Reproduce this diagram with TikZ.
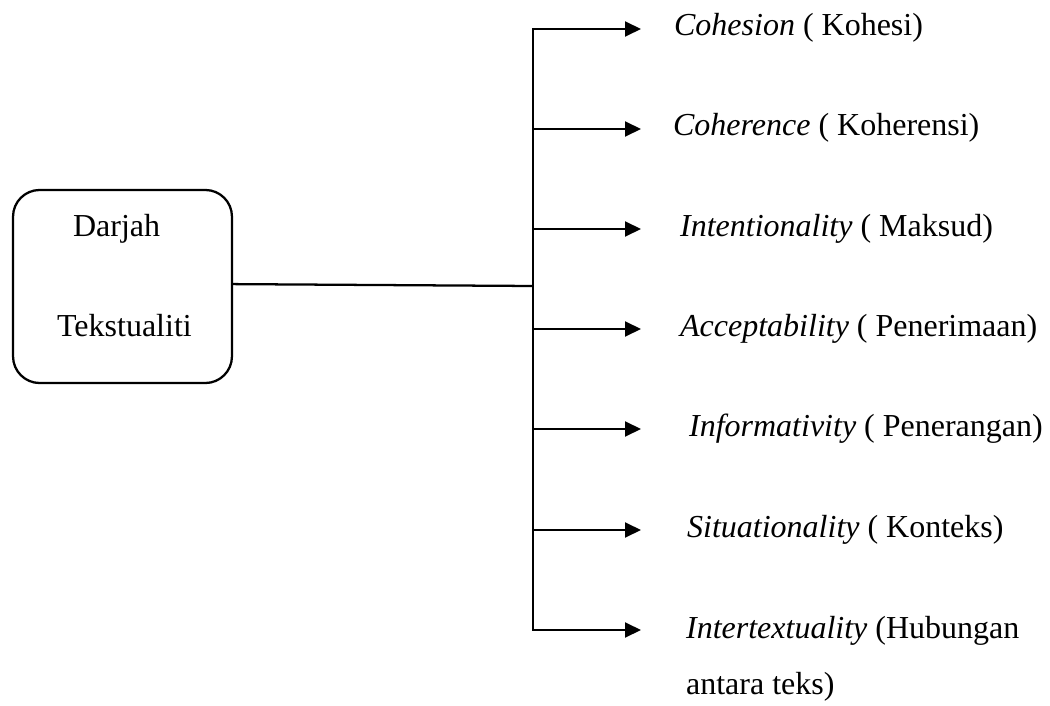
\documentclass[tikz,border=0pt]{standalone}
\usepackage{fontspec}
\setmainfont{Liberation Serif}
\usetikzlibrary{arrows.meta,positioning}

\begin{document}
\begin{tikzpicture}[x=0.375pt,y=-0.375pt,line width=0.85pt,
    tip/.style={-{Triangle[length=6pt,width=5.6pt]}},
    lbl/.style={anchor=base west,inner sep=0pt,font=\fontsize{12}{21}\selectfont}]
    \useasboundingbox (0,0) rectangle (1050,706);

    % Box
    \node[draw,rounded corners=10pt,minimum width=82.1pt,minimum height=72.4pt,inner sep=0pt] (box) at (122.5,286.5) {};
    \node[lbl] (darjah) at (72,237) {Darjah};
    \node[lbl] (teks) at (56,337) {Tekstualiti};

    % Trunk
    \coordinate (j) at (533,286);
    \coordinate (t1) at (533,29);  \coordinate (e1) at (641,29);
    \coordinate (t2) at (533,129); \coordinate (e2) at (641,129);
    \coordinate (t3) at (533,229); \coordinate (e3) at (641,229);
    \coordinate (t4) at (533,329); \coordinate (e4) at (641,329);
    \coordinate (t5) at (533,429); \coordinate (e5) at (641,429);
    \coordinate (t6) at (533,530); \coordinate (e6) at (641,530);
    \coordinate (t7) at (533,630); \coordinate (e7) at (641,630);
    \draw ([yshift=0.9pt]box.east) -- (j);
    \draw[{Triangle[length=6pt,width=5.6pt]}-{Triangle[length=6pt,width=5.6pt]}] (e1) -- (t1) -- (t7) -- (e7);

    % Arrows
    \draw[tip] (t2) -- (e2);
    \draw[tip] (t3) -- (e3);
    \draw[tip] (t4) -- (e4);
    \draw[tip] (t5) -- (e5);
    \draw[tip] (t6) -- (e6);

    % Labels
    \node[lbl] (coh) at (673,36) {\textit{Cohesion} ( Kohesi)};
    \node[lbl] (cohr) at (672,136) {\textit{Coherence} ( Koherensi)};
    \node[lbl] (intn) at (679,236) {\textit{Intentionality} ( Maksud)};
    \node[lbl] (acc) at (679,336) {\textit{Acceptability} ( Penerimaan)};
    \node[lbl] (inf) at (688,436) {\textit{Informativity} ( Penerangan)};
    \node[lbl] (sit) at (686,537) {\textit{Situationality} ( Konteks)};
    \node[lbl] (intx) at (685,638) {\textit{Intertextuality} (Hubungan};
    \node[lbl] (antara) at ([yshift=-21pt]intx.base west) {antara teks)};
\end{tikzpicture}
\end{document}
